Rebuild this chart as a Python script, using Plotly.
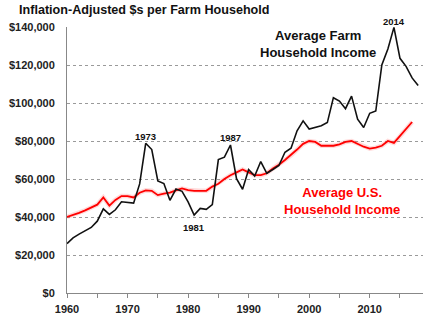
import plotly.graph_objects as go

# Years covered by each series
farm_years = list(range(1960, 2019))
us_years = list(range(1960, 2018))

# Average farm household income, inflation-adjusted dollars
farm_income = [
    26000, 29000, 31000, 32800, 34500, 37800, 44300, 41400, 43800, 48000,
    47800, 47300, 57400, 78800, 75500, 59000, 57600, 48800, 54700, 53500,
    48000, 41000, 44500, 44000, 46500, 70200, 71500, 77900, 60200, 54600,
    65000, 61600, 69200, 63000, 65000, 67100, 74100, 76200, 85400, 90600,
    86300, 87000, 88000, 89700, 102800, 101000, 97000, 103600, 91500, 87100,
    94600, 95800, 120000, 128400, 139800, 123500, 119300, 113200, 109200,
]

# Average U.S. household income, inflation-adjusted dollars
us_income = [
    40000, 41000, 42200, 43500, 45000, 46500, 50300, 46000, 49000, 51000,
    51000, 50300, 52800, 54000, 53800, 51500, 52300, 52800, 54000, 55000,
    54200, 53800, 53800, 53800, 56000, 57500, 60000, 62000, 63500, 65000,
    63500, 62000, 62000, 63000, 65500, 67500, 70000, 72500, 75500, 78500,
    80000, 79500, 77500, 77500, 77500, 78200, 79500, 80000, 78500, 77000,
    76000, 76500, 77500, 80000, 79000, 82500, 86000, 90000,
]

# Years flagged with a label above/below the farm line
callout_years = [1973, 1981, 1987, 2014]
callout_shift = [7, -12, 7, 6]

x_tick_vals = list(range(1960, 2020, 5))
x_tick_text = [str(v) if v % 10 == 0 else "" for v in x_tick_vals]
y_tick_vals = list(range(0, 140001, 20000))
y_tick_text = ["${:,}".format(v) for v in y_tick_vals]

FONT = "Liberation Sans, Arial, sans-serif"

fig = go.Figure()

# soft halo under the U.S. income line
fig.add_trace(go.Scatter(
    x=us_years, y=us_income, mode="lines",
    line=dict(color="rgba(255,90,90,0.22)", width=4.5),
    hoverinfo="skip", showlegend=False,
))
fig.add_trace(go.Scatter(
    x=us_years, y=us_income, mode="lines",
    line=dict(color="#ff0000", width=1.8),
    name="Average U.S. Household Income", showlegend=False,
))
fig.add_trace(go.Scatter(
    x=farm_years, y=farm_income, mode="lines",
    line=dict(color="#111111", width=1.6),
    name="Average Farm Household Income", showlegend=False,
))

annotations = []
for yr, dy in zip(callout_years, callout_shift):
    val = farm_income[farm_years.index(yr)]
    annotations.append(dict(
        x=yr, y=val, text="<b>%d</b>" % yr, showarrow=False,
        yshift=dy, font=dict(family=FONT, size=9.5, color="#111111"),
    ))

annotations += [
    dict(xref="paper", yref="paper", x=-0.14, y=1.0, yshift=17,
         xanchor="left", yanchor="middle", showarrow=False,
         text="<b>Inflation-Adjusted $s per Farm Household</b>",
         font=dict(family=FONT, size=12.6, color="#111111")),
    dict(x=2001.4, y=130800, showarrow=False, align="center",
         text="<b>Average Farm<br>Household Income</b>",
         font=dict(family=FONT, size=13, color="#111111")),
    dict(x=2005.5, y=48300, showarrow=False, align="center",
         text="<b>Average U.S.<br>Household Income</b>",
         font=dict(family=FONT, size=13, color="#ff0000")),
]

fig.update_layout(
    width=432, height=324,
    margin=dict(l=63, r=9, t=27, b=29),
    paper_bgcolor="white", plot_bgcolor="white",
    font=dict(family=FONT, color="#111111"),
    annotations=annotations,
    showlegend=False,
)
fig.update_xaxes(
    range=[1960, 2018.8],
    tickvals=x_tick_vals, ticktext=x_tick_text,
    tickfont=dict(family=FONT, size=11, color="#222222", weight="bold"),
    ticks="outside", ticklen=4, tickcolor="#888888", tickwidth=1,
    ticklabelstandoff=2,
    showline=True, linecolor="#888888", linewidth=1,
    showgrid=False, zeroline=False,
)
fig.update_yaxes(
    range=[0, 140000],
    tickvals=y_tick_vals, ticktext=y_tick_text,
    tickfont=dict(family=FONT, size=11, color="#222222", weight="bold"),
    ticks="", ticklabelstandoff=9,
    showline=True, linecolor="#888888", linewidth=1,
    showgrid=True, gridcolor="#9a9a9a", griddash="dot", gridwidth=1,
    zeroline=False,
)

fig.write_html("out.html")
